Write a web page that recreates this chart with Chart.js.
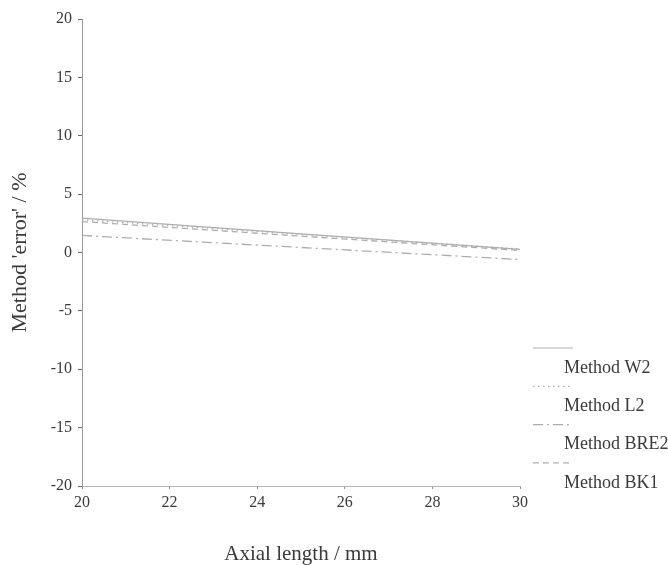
<!DOCTYPE html>
<html>
<head>
<meta charset="utf-8">
<script src="https://cdn.jsdelivr.net/npm/chart.js@4/dist/chart.umd.min.js"></script>
<style>
  html, body { margin: 0; padding: 0; background: #fff; }
  #wrap { width: 668px; height: 565px; }
</style>
</head>
<body>
<div id="wrap"><canvas id="errChart" width="668" height="565"></canvas></div>
<script>
// Axial length (mm) and method error (%) for each formula
const axialLength = [20, 25, 30];
const errW2   = [2.95, 1.60, 0.26];
const errL2   = [2.80, 1.55, 0.30];
const errBRE2 = [1.46, 0.43, -0.60];
const errBK1  = [2.65, 1.40, 0.17];

const xTicks = [20, 22, 24, 26, 28, 30];
const yTicks = [-20, -15, -10, -5, 0, 5, 10, 15, 20];

const SERIF = "'Liberation Serif', 'DejaVu Serif', serif";
const LINE_GREY = '#adadad';
const TEXT_GREY = '#3a3a3a';

const toPoints = vals => axialLength.map((x, i) => ({ x: x, y: vals[i] }));

const series = [
    { label: 'Method W2',   data: errW2,   dash: [] },
    { label: 'Method L2',   data: errL2,   dash: [1.5, 3.5] },
    { label: 'Method BRE2', data: errBRE2, dash: [10, 4, 2, 4] },
    { label: 'Method BK1',  data: errBK1,  dash: [6, 4] }
];

// legend with the line sample above each label
const stackedLegend = {
    id: 'stackedLegend',
    afterDraw(chart) {
        const ctx = chart.ctx;
        ctx.save();
        chart.data.datasets.forEach((ds, i) => {
            const yLine = 348 + i * 38.3;
            ctx.strokeStyle = LINE_GREY;
            ctx.lineWidth = 1.2;
            ctx.setLineDash(ds.borderDash || []);
            ctx.beginPath();
            ctx.moveTo(533, yLine);
            ctx.lineTo(573, yLine);
            ctx.stroke();
            ctx.setLineDash([]);
            ctx.fillStyle = TEXT_GREY;
            ctx.font = '18px ' + SERIF;
            ctx.textAlign = 'left';
            ctx.textBaseline = 'middle';
            ctx.fillText(ds.label, 564, yLine + 20);
        });
        ctx.restore();
    }
};

new Chart(document.getElementById('errChart'), {
    type: 'line',
    data: {
        datasets: series.map(s => ({
            label: s.label,
            data: toPoints(s.data),
            borderColor: LINE_GREY,
            borderWidth: 1.3,
            borderDash: s.dash,
            pointRadius: 0,
            fill: false,
            tension: 0
        }))
    },
    options: {
        responsive: false,
        animation: false,
        layout: { padding: { top: 19, right: 148, left: 0, bottom: 0 } },
        plugins: {
            legend: { display: false },
            tooltip: { enabled: false }
        },
        scales: {
            x: {
                type: 'linear',
                min: 20,
                max: 30,
                afterFit: scale => { scale.height = 79; },
                afterBuildTicks: scale => { scale.ticks = xTicks.map(v => ({ value: v })); },
                ticks: {
                    color: TEXT_GREY,
                    font: { family: SERIF, size: 16 },
                    padding: 4,
                    maxRotation: 0
                },
                grid: { drawOnChartArea: false, drawTicks: true, tickLength: 3, color: '#8a8a8a' },
                border: { display: true, color: '#b5b5b5', width: 1 },
                title: {
                    display: true,
                    text: 'Axial length / mm',
                    color: TEXT_GREY,
                    font: { family: SERIF, size: 21, lineHeight: 1 },
                    padding: { top: 0, bottom: 0 }
                }
            },
            y: {
                type: 'linear',
                min: -20,
                max: 20,
                afterFit: scale => { scale.width = 82; },
                afterBuildTicks: scale => { scale.ticks = yTicks.map(v => ({ value: v })); },
                ticks: {
                    color: TEXT_GREY,
                    font: { family: SERIF, size: 16 },
                    padding: 6
                },
                grid: { drawOnChartArea: false, drawTicks: true, tickLength: 4, color: '#6a6a6a' },
                border: { display: true, color: '#9a9a9a', width: 1 },
                title: {
                    display: true,
                    text: "Method 'error' / %",
                    color: TEXT_GREY,
                    font: { family: SERIF, size: 22, lineHeight: 1 },
                    padding: { top: 9, bottom: 0 }
                }
            }
        }
    },
    plugins: [stackedLegend]
});
</script>
</body>
</html>
